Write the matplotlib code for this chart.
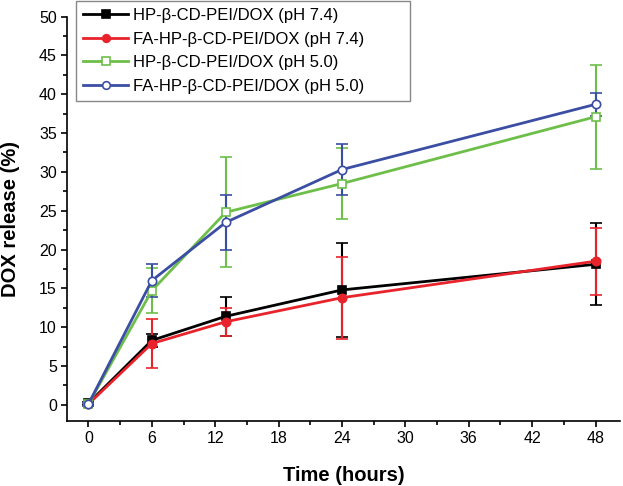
"""
DOX release profiles of HP-beta-CD-PEI/DOX and FA-HP-beta-CD-PEI/DOX at two pH values.
"""

import matplotlib.pyplot as plt
from matplotlib.lines import Line2D
from matplotlib.ticker import MultipleLocator

plt.rcParams['font.family'] = ['Liberation Sans', 'DejaVu Sans']

TIME = [0, 6, 13, 24, 48]

HP_74 = [0.2, 8.3, 11.4, 14.8, 18.1]
HP_74_ERR = [0.2, 0.8, 2.5, 6.0, 5.3]

FA_74 = [0.1, 7.9, 10.7, 13.8, 18.5]
FA_74_ERR = [0.2, 3.2, 1.8, 5.3, 4.3]

HP_50 = [0.1, 14.7, 24.8, 28.5, 37.1]
HP_50_ERR = [0.2, 2.9, 7.1, 4.6, 6.7]

FA_50 = [0.1, 16.0, 23.5, 30.3, 38.7]
FA_50_ERR = [0.2, 2.1, 3.5, 3.3, 1.5]

LABELS = [
    'HP-β-CD-PEI/DOX (pH 7.4)',
    'FA-HP-β-CD-PEI/DOX (pH 7.4)',
    'HP-β-CD-PEI/DOX (pH 5.0)',
    'FA-HP-β-CD-PEI/DOX (pH 5.0)',
]


def plot_series(ax, y, err, color, marker, filled):
    """Draw one release curve with error bars; return a legend proxy."""
    face = color if filled else 'white'
    style = dict(color=color, lw=2, marker=marker, markerfacecolor=face,
                 markeredgecolor=color, markeredgewidth=1.2)
    ax.errorbar(TIME, y, yerr=err, markersize=6, capsize=4, capthick=1.5,
                elinewidth=1.5, **style)
    return Line2D([], [], markersize=5.5, **style)


def main():
    fig = plt.figure(figsize=(6.23, 4.86), dpi=100)
    ax = fig.add_axes([0.108, 0.134, 0.887, 0.832])

    handles = [
        plot_series(ax, HP_74, HP_74_ERR, 'black', 's', True),
        plot_series(ax, FA_74, FA_74_ERR, '#e8232b', 'o', True),
        plot_series(ax, HP_50, HP_50_ERR, '#6dbf4a', 's', False),
        plot_series(ax, FA_50, FA_50_ERR, '#3b4ea3', 'o', False),
    ]

    ax.set_xlim(-2, 50.3)
    ax.set_ylim(-2.06, 50)
    ax.xaxis.set_major_locator(MultipleLocator(6))
    ax.xaxis.set_minor_locator(MultipleLocator(3))
    ax.yaxis.set_major_locator(MultipleLocator(5))
    ax.yaxis.set_minor_locator(MultipleLocator(2.5))
    ax.tick_params(which='major', direction='out', length=4.5, width=1.2,
                   labelsize=11.5, pad=3)
    ax.tick_params(which='minor', direction='out', length=3, width=1.2)

    ax.spines['top'].set_visible(False)
    ax.spines['right'].set_visible(False)
    ax.spines['left'].set_linewidth(1.2)
    ax.spines['bottom'].set_linewidth(1.2)

    ax.set_xlabel('Time (hours)', fontsize=14.5, fontweight='bold', labelpad=14.5)
    ax.set_ylabel('DOX release (%)', fontsize=14.5, fontweight='bold', labelpad=13.5)

    # legend box runs from x=76 to x=410 px, text left aligned inside
    leg = ax.legend(
        handles, LABELS,
        loc='upper left', mode='expand',
        bbox_to_anchor=(76 / 623, 0, 334 / 623, 1 - 1 / 486),
        bbox_transform=fig.transFigure, fontsize=12, fancybox=False,
        edgecolor='#888888', handlelength=2.7, borderpad=0.42,
        labelspacing=0.52, handletextpad=0.3, borderaxespad=0,
        framealpha=1
    )
    leg.get_frame().set_linewidth(1.0)

    fig.savefig('out.png', dpi=100)


if __name__ == "__main__":
    main()
